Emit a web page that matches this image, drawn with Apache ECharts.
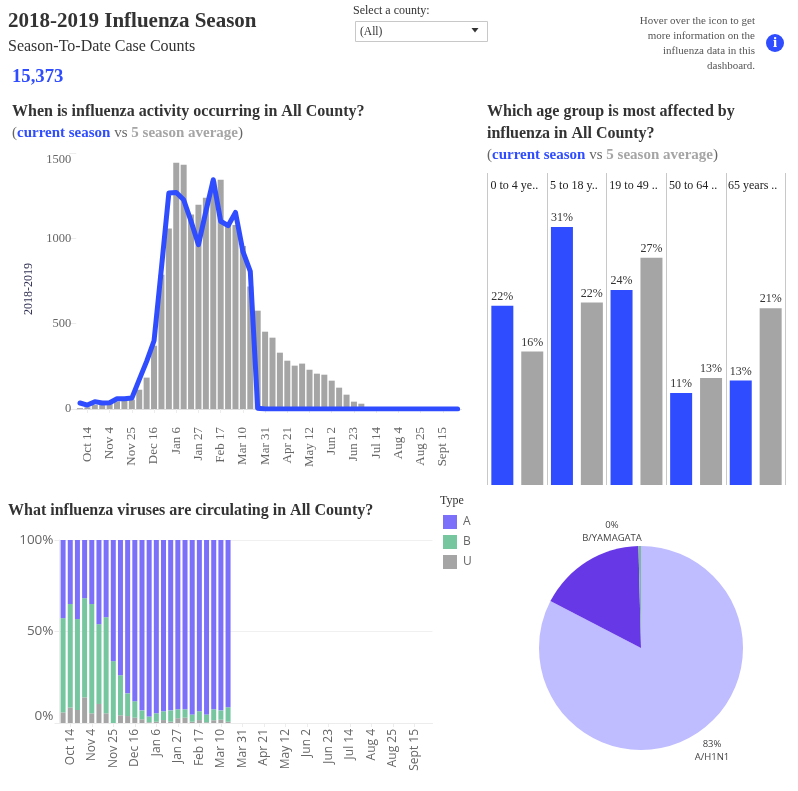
<!DOCTYPE html>
<html><head><meta charset="utf-8">
<style>html,body{margin:0;padding:0;background:#fff}#c{width:798px;height:791px}</style>
<script src="https://cdn.jsdelivr.net/npm/echarts@6/dist/echarts.min.js"></script>
</head><body><div id="c"></div>
<script>
const weeks = ["Oct 7","Oct 14","Oct 21","Oct 28","Nov 4","Nov 11","Nov 18","Nov 25","Dec 2","Dec 9","Dec 16","Dec 23","Dec 30","Jan 6","Jan 13","Jan 20","Jan 27","Feb 3","Feb 10","Feb 17","Feb 24","Mar 3","Mar 10","Mar 17","Mar 24","Mar 31","Apr 7","Apr 14","Apr 21","Apr 28","May 5","May 12","May 19","May 26","Jun 2","Jun 9","Jun 16","Jun 23","Jun 30","Jul 7","Jul 14","Jul 21","Jul 28","Aug 4","Aug 11","Aug 18","Aug 25","Sept 1","Sept 8","Sept 15","Sept 22","Sept 29"];
const avgCases = [5,10,25,30,40,45,50,55,113,184,371,787,1057,1443,1431,1139,1197,1238,1334,1343,1090,1078,955,718,576,453,418,330,283,254,266,230,207,201,166,125,84,43,31,5,3,2,1,1,1,0,0,0,0,0,0,0];
const currentCases = [35,23,43,35,37,60,60,64,172,279,400,826,1265,1269,1226,1100,963,1158,1343,1100,1074,1152,924,807,5,0,0,0,0,0,0,0,0,0,0,0,0,0,0,0,0,0,0,0,0,0,0,0,0,0,0,0];
const ages = ["0 to 4 ye..","5 to 18 y..","19 to 49 ..","50 to 64 ..","65 years .."];
const ageCurrent = [21.6,31.1,23.5,11.1,12.6];
const ageAverage = [16.1,22.0,27.4,12.9,21.3];
const typeA = [42.7,35,43.2,31.8,35,46,42.2,66.2,73.9,83.8,88.1,93.1,96.4,94.7,93.6,93.1,92.5,92.5,95.3,93.6,95.3,92.5,93.1,91.4];
const typeB = [51.5,56.6,49.7,54.2,59.7,43.6,52.5,33.8,21.9,12.4,9,4.9,3.2,4.6,4.8,6.2,4.9,4.6,4,4.8,4.3,6,5.1,7.9];
const typeU = [5.8,8.4,7.1,14,5.3,10.4,5.3,0,4.2,3.8,2.9,2,0.4,0.7,1.6,0.7,2.6,2.9,0.7,1.6,0.4,1.5,1.8,0.7];
const strains = ["A/H1N1","A/H3","B/YAMAGATA"];
const strainShares = [82.6,17.0,0.4];

const SERIF = '"Liberation Serif","Times New Roman",serif';
const SANS = '"Open Sans","Noto Sans",sans-serif';
const BLUE = '#2f4dff', GRAY = '#a5a5a5', INK = '#333333', AX = '#666666', FAINT = '#ececec';
const every3 = i => (i - 1) % 3 === 0;
const strainColors = ['#bfbcff','#6738e6','#7fb8a0'];

function txt(x, y, text, size, opts) {
  return {type:'text', x, y, silent:true, style:Object.assign({
    text, fontFamily:SERIF, fontSize:size, fill:INK, verticalAlign:'middle'
  }, opts||{})};
}
const legendRich = {
  b:{fontFamily:SERIF,fontSize:15,fontWeight:'bold',fill:BLUE},
  g:{fontFamily:SERIF,fontSize:15,fontWeight:'bold',fill:GRAY},
  n:{fontFamily:SERIF,fontSize:15,fill:'#666666'}
};
const legendText = '{n|(}{b|current season}{n| vs }{g|5 season average}{n|)}';

const graphics = [
  txt(8,22,'2018-2019 Influenza Season',21,{fontWeight:'bold'}),
  txt(8,46.5,'Season-To-Date Case Counts',16),
  txt(12,77,'15,373',18.7,{fontWeight:'bold',fill:BLUE}),
  txt(353,10.5,'Select a county:',12),
  {type:'rect',shape:{x:355.5,y:21.5,width:132,height:20},style:{fill:'#fff',stroke:'#c8c8c8',lineWidth:1},silent:true},
  txt(360,31.5,'(All)',11.5),
  {type:'polygon',shape:{points:[[471.5,28],[478.5,28],[475,32.5]]},style:{fill:'#333'},silent:true},
  txt(755,21,'Hover over the icon to get',11,{align:'right',fill:'#555'}),
  txt(755,36.5,'more information on the',11,{align:'right',fill:'#555'}),
  txt(755,51.5,'influenza data in this',11,{align:'right',fill:'#555'}),
  txt(755,66.5,'dashboard.',11,{align:'right',fill:'#555'}),
  {type:'circle',shape:{cx:775,cy:43,r:9},style:{fill:BLUE},silent:true},
  txt(775,43,'i',15,{align:'center',fill:'#fff',fontWeight:'bold'}),
  txt(12,112,'When is influenza activity occurring in All County?',16,{fontWeight:'bold'}),
  {type:'text',x:12,y:133,silent:true,style:{text:legendText,rich:legendRich,verticalAlign:'middle'}},
  txt(487,112,'Which age group is most affected by',16,{fontWeight:'bold'}),
  txt(487,133.5,'influenza in All County?',16,{fontWeight:'bold'}),
  {type:'text',x:487,y:155,silent:true,style:{text:legendText,rich:legendRich,verticalAlign:'middle'}},
  txt(8,511,'What influenza viruses are circulating in All County?',16,{fontWeight:'bold'}),
  txt(440,501,'Type',12)
];

const option = {
  backgroundColor:'#fff',
  animation:false,
  graphic:graphics,
  legend:{
    data:['A','B','U'], orient:'vertical', left:443, top:515, padding:0, itemWidth:14, itemHeight:14, itemGap:6,
    icon:'rect', selectedMode:false, textStyle:{fontFamily:SANS,fontSize:12,color:AX,padding:[0,0,0,1]}
  },
  grid:[
    {left:76.3,top:153,width:385,height:256},
    {left:487.5,top:173,width:298,height:312},
    {left:59.5,top:540,width:373,height:183}
  ],
  xAxis:[
    {gridIndex:0,type:'category',data:weeks,
      axisLine:{lineStyle:{color:'#dddddd'}},
      axisTick:{show:true,alignWithLabel:true,interval:every3,length:4,lineStyle:{color:FAINT}},
      axisLabel:{interval:every3,rotate:90,margin:18,fontFamily:SERIF,fontSize:13,color:AX,padding:[3,0,0,0]}},
    {gridIndex:1,type:'category',position:'top',data:ages,
      axisLine:{show:false},axisTick:{show:false},
      splitLine:{show:true,interval:0,lineStyle:{color:'#c8c8c8',width:1}},
      axisLabel:{inside:true,interval:0,margin:7,fontFamily:SERIF,fontSize:12,color:'#222',padding:[0,6,0,0]}},
    {gridIndex:2,type:'category',data:weeks,
      axisLine:{lineStyle:{color:FAINT}},
      axisTick:{show:true,alignWithLabel:true,interval:every3,length:4,lineStyle:{color:FAINT}},
      axisLabel:{interval:every3,rotate:90,margin:6,fontFamily:SANS,fontSize:12,color:AX,padding:[3,0,0,0]}}
  ],
  yAxis:[
    {gridIndex:0,type:'value',min:0,max:1500,interval:500,
      name:'2018-2019',nameLocation:'middle',nameRotate:90,nameGap:41,
      nameTextStyle:{fontFamily:SERIF,fontSize:12,color:'#333355',padding:[0,16,0,0]},
      axisLine:{show:false},axisTick:{show:true,length:7,lineStyle:{color:FAINT}},
      splitLine:{show:false},
      axisLabel:{margin:5,fontFamily:SERIF,fontSize:12.5,color:AX,formatter:v=>String(v),verticalAlignMaxLabel:'top'}},
    {gridIndex:1,type:'value',min:0,max:37.6,show:false,splitLine:{show:false}},
    {gridIndex:2,type:'value',min:0,max:100,interval:50,
      axisLine:{show:true,lineStyle:{color:FAINT}},axisTick:{show:true,length:5,lineStyle:{color:FAINT}},
      splitLine:{show:true,lineStyle:{color:'#f0f0f0'}},
      axisLabel:{margin:6,fontFamily:SANS,fontSize:13.5,color:AX,formatter:'{value}%',verticalAlignMinLabel:'bottom'}}
  ],
  series:[
    {type:'bar',xAxisIndex:0,yAxisIndex:0,data:avgCases,barWidth:6,itemStyle:{color:GRAY}},
    {type:'line',xAxisIndex:0,yAxisIndex:0,data:currentCases,showSymbol:false,symbol:'none',
      lineStyle:{color:BLUE,width:5,cap:'round',join:'round'},z:5},
    {type:'bar',xAxisIndex:1,yAxisIndex:1,data:ageCurrent,barWidth:22,barGap:'36%',itemStyle:{color:BLUE},
      label:{show:true,position:'top',distance:3,fontFamily:SERIF,fontSize:12,color:INK,formatter:p=>Math.round(p.value)+'%'}},
    {type:'bar',xAxisIndex:1,yAxisIndex:1,data:ageAverage,barWidth:22,itemStyle:{color:GRAY},
      label:{show:true,position:'top',distance:3,fontFamily:SERIF,fontSize:12,color:INK,formatter:p=>Math.round(p.value)+'%'}},
    {name:'U',type:'bar',stack:'t',xAxisIndex:2,yAxisIndex:2,data:typeU,barWidth:5,itemStyle:{color:GRAY}},
    {name:'B',type:'bar',stack:'t',xAxisIndex:2,yAxisIndex:2,data:typeB,barWidth:5,itemStyle:{color:'#76c6a0'}},
    {name:'A',type:'bar',stack:'t',xAxisIndex:2,yAxisIndex:2,data:typeA,barWidth:5,itemStyle:{color:'#7c70fb'}},
    {type:'pie',center:[641,648],radius:[0,102],startAngle:90,clockwise:true,
      percentPrecision:0,
      data:strains.map((n,i)=>({name:n,value:strainShares[i],itemStyle:{color:strainColors[i]},
        label:{show:i!==1}})),
      label:{position:'outside',formatter:'{d}%\n{b}',fontFamily:SANS,fontSize:9.5,color:'#444',lineHeight:12.5,align:'center',overflow:'none',width:90},
      labelLine:{show:false},
      labelLayout:p=>p.dataIndex===0?{x:712,y:751,align:'center',verticalAlign:'middle',hideOverlap:false}
                                    :{x:612,y:532,align:'center',verticalAlign:'middle',hideOverlap:false},
      emphasis:{disabled:true}
    }
  ]
};
const chart = echarts.init(document.getElementById('c'));
chart.setOption(option);
</script></body></html>
